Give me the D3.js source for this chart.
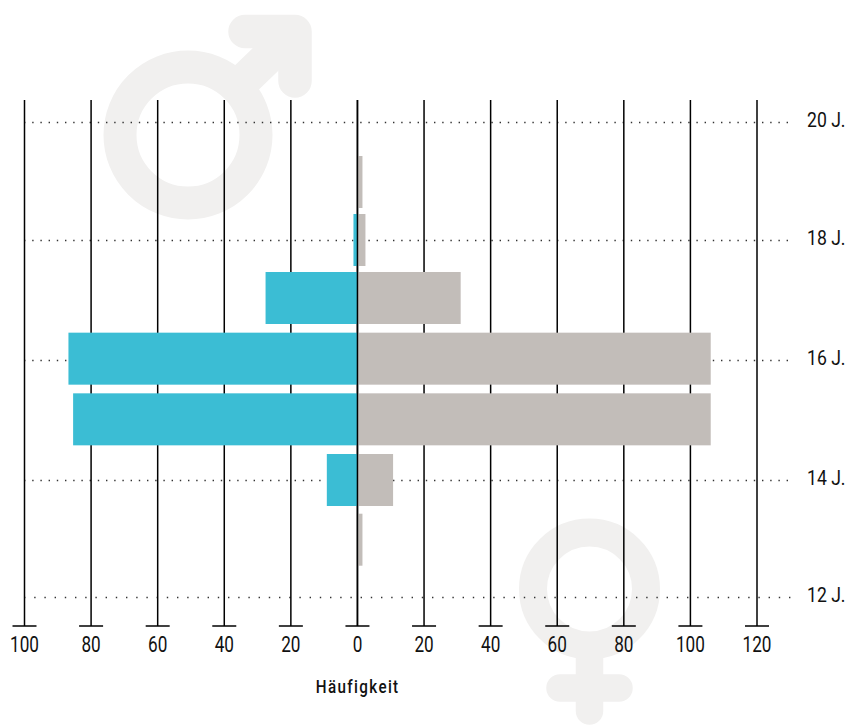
<!DOCTYPE html>
<html><head><meta charset="utf-8">
<script src="https://cdn.jsdelivr.net/npm/d3@7"></script>
<style>html,body{margin:0;padding:0;background:#fff}svg{display:block}
text{font-family:"Roboto",sans-serif;fill:#111}</style></head>
<body><svg id="c" width="848" height="725"></svg>
<script>
const ages = [19, 18, 17, 16, 15, 14, 13];
const male = [0, 1.2, 27.6, 86.8, 85.4, 9.2, 0];
const female = [1.5, 2.4, 31, 106.1, 106.1, 10.7, 1.5];
const leftTicks = [100, 80, 60, 40, 20];
const rightTicks = [0, 20, 40, 60, 80, 100, 120];
const ageTicks = [20, 18, 16, 14, 12];
const axisTitle = "Häufigkeit";
const maleColor = "#3bbdd4", femaleColor = "#c2bdb9", symbolColor = "#f1f0ef";

const svg = d3.select("#c");
const x = d3.scaleLinear().domain([-100, 120]).range([24.5, 757]);
const y = d3.scaleLinear().domain([20, 18, 16, 14, 12]).range([122, 240, 360, 480, 597]);
const yBar = d3.scaleLinear().domain([19, 17, 14, 13]).range([182, 298, 480, 539.7]);
const barH = 52;
const yTop = 100, yBot = 626;

// decorative gender symbols
const sym = svg.append("g").attr("fill", "none").attr("stroke", symbolColor).attr("stroke-linecap", "round").attr("stroke-linejoin", "round");
sym.append("circle").attr("cx", 188).attr("cy", 135).attr("r", 68).attr("stroke-width", 33);
sym.append("path").attr("stroke-width", 34).attr("stroke-linecap", "butt").attr("d", "M238,86L292,34");
sym.append("path").attr("stroke-width", 33.5).attr("d", "M245,31.5H295V81");
sym.append("circle").attr("cx", 589.5).attr("cy", 589).attr("r", 56.5).attr("stroke-width", 28);
sym.append("path").attr("stroke-width", 27.5).attr("d", "M589.5,650V711M560,688H619");

// dotted age lines
svg.append("g").selectAll("line").data(ageTicks).join("line")
  .attr("x1", 24).attr("x2", 791).attr("y1", d => y(d) + 0.5).attr("y2", d => y(d) + 0.5)
  .attr("stroke", "#333").attr("stroke-width", 1.3)
  .attr("stroke-dasharray", d => d === 12 ? "1.4 8.8" : "1.4 6.8");

// grid lines with caps
const ticks = leftTicks.map(d => -d).concat(rightTicks);
const g = svg.append("g").attr("stroke", "#000").attr("stroke-width", 1.5);
g.selectAll(".v").data(ticks).join("line").attr("class", "v")
  .attr("x1", d => x(d)).attr("x2", d => x(d)).attr("y1", yTop).attr("y2", yBot);
g.selectAll(".cap").data(ticks).join("line").attr("class", "cap")
  .attr("x1", d => x(d) - 12).attr("x2", d => x(d) + 12).attr("y1", yBot).attr("y2", yBot);

// bars
svg.append("g").selectAll("rect").data(ages.map((a, i) => ({a, v: male[i]})).filter(d => d.v > 0)).join("rect")
  .attr("x", d => x(-d.v)).attr("width", d => x(0) - x(-d.v))
  .attr("y", d => yBar(d.a) - barH / 2).attr("height", barH).attr("fill", maleColor);
svg.append("g").selectAll("rect").data(ages.map((a, i) => ({a, v: female[i]}))).join("rect")
  .attr("x", x(0)).attr("width", d => x(d.v) - x(0))
  .attr("y", d => yBar(d.a) - barH / 2).attr("height", barH).attr("fill", femaleColor);

// zero line above bars
svg.append("line").attr("x1", x(0)).attr("x2", x(0)).attr("y1", yTop).attr("y2", yBot)
  .attr("stroke", "#000").attr("stroke-width", 1.5);

// labels
svg.append("g").selectAll("text").data(ticks).join("text")
  .attr("transform", d => `translate(${x(d)},652) scale(.78,1)`).attr("text-anchor", "middle")
  .attr("font-size", 22).text(d => Math.abs(d));
svg.append("g").selectAll("text").data(ageTicks).join("text")
  .attr("transform", d => `translate(807,${y(d) + 4.7}) scale(.88,1)`).attr("font-size", 20).text(d => d + " J.");
svg.append("text").attr("transform", "translate(357.7,693) scale(.8,1)").attr("text-anchor", "middle")
  .attr("font-size", 19).attr("font-weight", 500).attr("letter-spacing", 1.7).text(axisTitle);
</script></body></html>
